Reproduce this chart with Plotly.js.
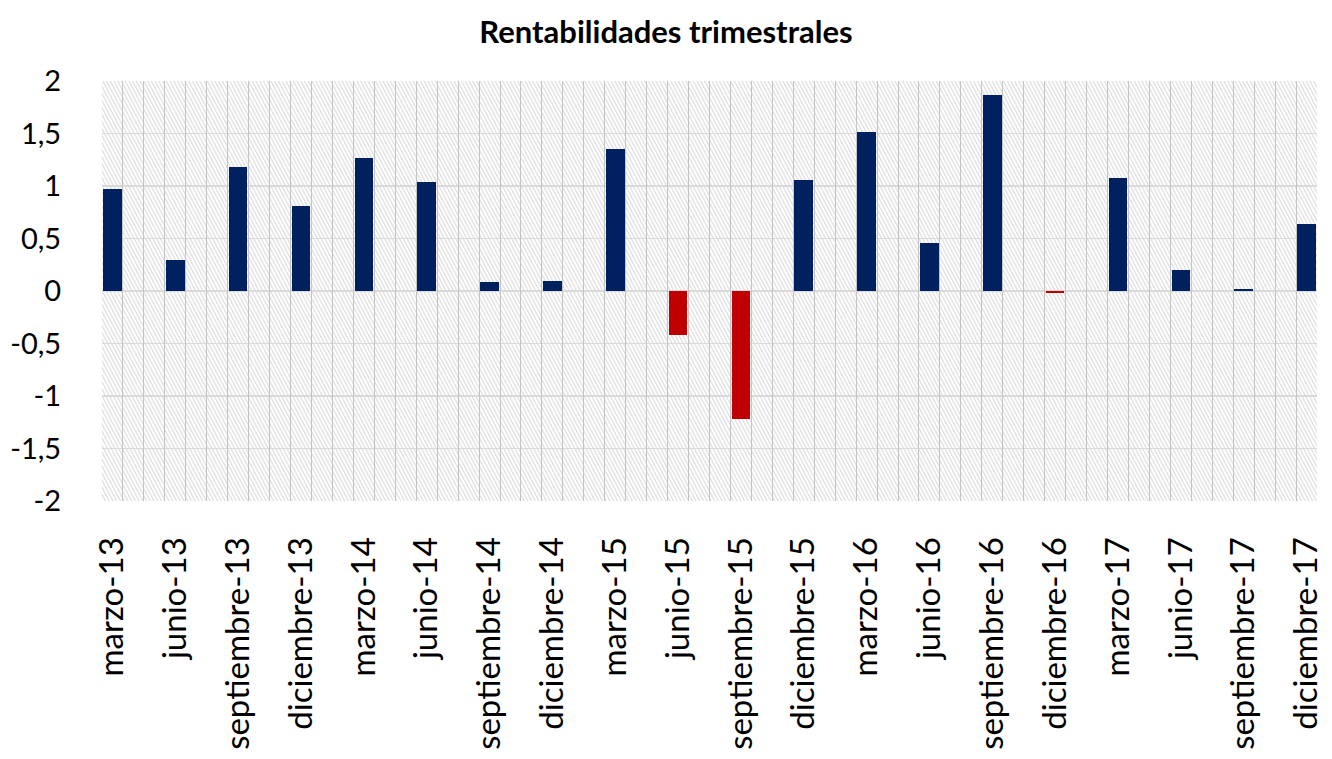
<!DOCTYPE html>
<html><head><meta charset="utf-8">
<script src="https://cdn.plot.ly/plotly-3.0.1.min.js"></script>
<style>
html,body{margin:0;padding:0;background:#fff}
#chart{width:1332px;height:759px;outline:1px solid #d9d9d9;outline-offset:-2px}
</style>
</head><body><div id="chart"></div>
<script>
const categories = ['marzo-13','junio-13','septiembre-13','diciembre-13',
  'marzo-14','junio-14','septiembre-14','diciembre-14',
  'marzo-15','junio-15','septiembre-15','diciembre-15',
  'marzo-16','junio-16','septiembre-16','diciembre-16',
  'marzo-17','junio-17','septiembre-17','diciembre-17'];
const values = [0.97, 0.30, 1.18, 0.81,
  1.27, 1.04, 0.09, 0.10,
  1.35, -0.42, -1.22, 1.06,
  1.51, 0.46, 1.87, -0.02,
  1.08, 0.20, 0.02, 0.64];
const yTickVals = [2, 1.5, 1, 0.5, 0, -0.5, -1, -1.5, -2];
const yTickText = ['2', '1,5', '1', '0,5', '0', '-0,5', '-1', '-1,5', '-2'];

const monthsPerQuarter = 3;
const positions = categories.map((c, i) => i * monthsPerQuarter);
const totalMonths = (categories.length - 1) * monthsPerQuarter + 1;
const barColors = values.map(v => v >= 0 ? '#002060' : '#c00000');

// hatched background for the plot area
const W = 1215, H = 420;
const svg = `<svg xmlns="http://www.w3.org/2000/svg" width="${W}" height="${H}">
<defs><pattern id="p" patternUnits="userSpaceOnUse" width="3.3" height="3.3" patternTransform="rotate(-28)">
<rect width="3.3" height="3.3" fill="#ffffff"/><line x1="0.6" y1="0" x2="0.6" y2="3.3" stroke="#d6d6d6" stroke-width="1"/></pattern></defs>
<rect width="${W}" height="${H}" fill="url(#p)"/></svg>`;
const bgSrc = 'data:image/svg+xml;charset=utf-8,' + encodeURIComponent(svg);

const trace = {
  type: 'bar',
  x: positions,
  y: values,
  width: 0.89,
  marker: {color: barColors, line: {width: 0}},
  hoverinfo: 'x+y',
  showlegend: false
};

const layout = {
  width: 1332, height: 759,
  margin: {l: 102, r: 15, t: 81, b: 258, pad: 0},
  paper_bgcolor: '#ffffff',
  plot_bgcolor: 'rgba(0,0,0,0)',
  title: {
    text: '<b>Rentabilidades trimestrales</b>',
    font: {family: 'Lato, Carlito, sans-serif', size: 31, color: '#000'},
    x: 0.5, xref: 'container', xanchor: 'center',
    y: 1 - 32 / 759, yref: 'container', yanchor: 'middle'
  },
  images: [{
    source: bgSrc, xref: 'paper', yref: 'paper', x: 0, y: 1,
    sizex: 1, sizey: 1, xanchor: 'left', yanchor: 'top',
    sizing: 'stretch', layer: 'below'
  }],
  xaxis: {
    range: [-0.5, totalMonths - 0.5],
    tickmode: 'array', tickvals: positions, ticktext: categories,
    tickangle: -90,
    tickfont: {family: 'Lato, Carlito, sans-serif', size: 33, color: '#000'},
    ticks: 'outside', ticklen: 22, tickcolor: 'rgba(0,0,0,0)',
    showgrid: false, zeroline: false, showline: false, fixedrange: true
  },
  xaxis2: {
    overlaying: 'x', range: [-0.5, totalMonths - 0.5],
    tickmode: 'linear', tick0: -0.5, dtick: 1,
    showticklabels: false, ticks: '',
    showgrid: true, gridcolor: '#c4c4c4', gridwidth: 1,
    zeroline: false, showline: false
  },
  yaxis: {
    range: [-2, 2],
    tickmode: 'array', tickvals: yTickVals, ticktext: yTickText,
    tickfont: {family: 'Lato, Carlito, sans-serif', size: 29, color: '#000'},
    ticks: 'outside', ticklen: 34, tickcolor: 'rgba(0,0,0,0)',
    showgrid: true, gridcolor: '#dadada', gridwidth: 1.2,
    zeroline: false, showline: false, fixedrange: true
  },
  bargap: 0
};

const gridTrace = {type: 'scatter', x: [], y: [], xaxis: 'x2', yaxis: 'y', showlegend: false, hoverinfo: 'skip'};

Plotly.newPlot('chart', [gridTrace, trace], layout, {displayModeBar: false, staticPlot: true});
</script>
</body></html>
